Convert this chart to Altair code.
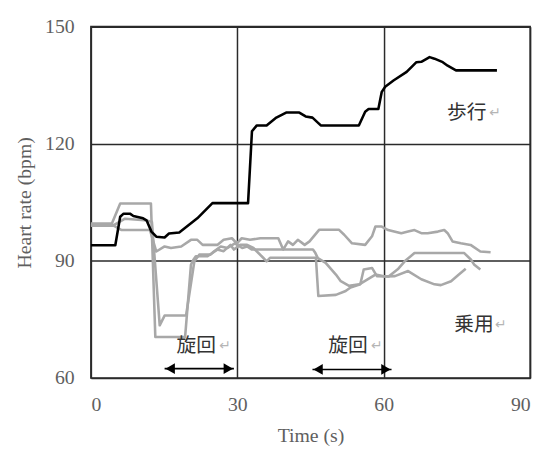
import altair as alt
import pandas as pd

# Walking (歩行) series - black
walk_t = [0, 5, 6, 6.7, 8, 8.7, 10.7, 11.4, 12.4, 13.4, 15.1, 16, 18.1, 21.8, 24.9, 32.2, 33, 34, 36, 38, 40,
          42.7, 44, 45.4, 47.1, 54.9, 56.2, 56.9, 58.9, 59.6, 60.3, 62, 64.7, 66.7, 67.7, 69.4, 70.4, 72.1,
          73.1, 74.8, 83.2]
walk_hr = [94, 94, 101.3, 102.1, 102.1, 101.5, 100.9, 100.4, 97.5, 96.2, 96, 97, 97.3, 100.9, 104.8, 104.8,
           123.2, 124.7, 124.7, 126.7, 128, 128, 127, 126.7, 124.7, 124.7, 128.2, 128.9, 128.9, 133.3, 134.6,
           136.2, 138.4, 140.9, 141, 142.2, 141.8, 140.9, 140, 138.8, 138.8]

# Riding (乗用) series - grey
ride1_t = [0, 4.4, 6.3, 12.1, 13.4, 15.1, 16.4, 18.5, 20.5, 21.8, 22.9, 25.9, 27.2, 28.9, 29.9, 30.9, 32.6,
           34.7, 38.4, 39.4, 40.4, 41.4, 42.4, 43.8, 44.8, 46.8, 50.8, 51.9, 53.5, 56.2, 57.6, 58.3, 59.6, 60.9,
           63.6, 65, 66.3, 67.7, 69, 71.1, 72.4, 73.1, 74.1, 75.8, 77.8, 79.8, 81.9]
ride1_hr = [99.2, 99.2, 97.9, 97.9, 92.4, 93.7, 93.3, 93.7, 95.4, 95.4, 94.1, 94.1, 95.4, 95.8, 94.5, 95.8,
            95.4, 95.8, 95.8, 92.9, 95, 94.1, 95.4, 94.1, 95, 98, 98, 96.7, 94.5, 94.1, 96.3, 98.8, 98.8, 97.9,
            97.1, 97.5, 97.9, 97.1, 97.1, 97.5, 97.9, 97.1, 95, 94.5, 94.1, 92.4, 92.2]

ride2_t = [0, 4.3, 6, 12.3, 13.2, 19.3, 20.5, 21, 21.5, 23.9, 25.9, 27.2, 28.6, 29.3, 30.6, 32, 33.3, 35.3, 36,
           36.7, 46.1, 46.6, 50.2, 52.2, 53.2, 55.2, 55.9, 57.6, 58.6, 61, 63, 64.3, 66.3, 76.5, 77.9, 78.5, 79.8]
ride2_hr = [99.6, 99.6, 104.7, 104.7, 70.5, 70.5, 89, 90.3, 91.2, 91.2, 92.9, 92.5, 94.1, 92.9, 94.1, 94.1,
            93.3, 90.8, 89.9, 90.8, 90.8, 81, 81.3, 82.3, 83.2, 84, 87.8, 88.2, 86.1, 86, 88, 89.9, 92, 92,
            90.3, 89.1, 87.8]

ride3_t = [0, 4.4, 7, 11, 12.5, 14.1, 15.1, 19.5, 21.2, 22.2, 24.5, 25.2, 26.6, 28, 29.5, 31, 32, 33, 45.5,
           46, 46.5, 48.1, 50.2, 51.2, 52.9, 55, 58.3, 60.3, 62.3, 65, 67.7, 70.4, 71.7, 73.8, 75.4, 76.8]
ride3_hr = [99, 99, 100.8, 100.4, 100, 73.5, 76, 76, 89.9, 91.6, 91.6, 92.4, 93.7, 93.3, 94.5, 93.3, 93.7,
            92.9, 92.9, 92, 90.7, 89.5, 86.5, 84.8, 83.6, 84, 86.5, 86, 86.1, 87.4, 85.3, 84, 83.8, 84.8, 86.5, 88]

# Annotations
label_text = ["歩行", "乗用", "旋回", "旋回"]
label_t = [77.0, 78.5, 21.6, 52.7]
label_hr = [127.8, 73.5, 68.1, 68.1]
mark_t = [81.6, 82.8, 26.3, 57.4]   # position of the ↵ paragraph marks

arrow_start = [15.1, 45.4]
arrow_end = [29.3, 61.6]
arrow_hr = [62.4, 62.2]

x_ticks = [0, 30, 60, 90]
y_ticks = [60, 90, 120, 150]

rows = []
for name, ts, hs in [("ride1", ride1_t, ride1_hr), ("ride2", ride2_t, ride2_hr), ("ride3", ride3_t, ride3_hr)]:
    for i, (t, h) in enumerate(zip(ts, hs)):
        rows.append({"series": name, "t": t, "hr": h, "i": i})
grey_df = pd.DataFrame(rows)
walk_df = pd.DataFrame({"t": walk_t, "hr": walk_hr, "i": list(range(len(walk_t)))})
label_df = pd.DataFrame({"text": label_text, "t": label_t, "hr": label_hr, "mt": mark_t, "mark": ["↵"] * 4})
arrow_df = pd.DataFrame({"t1": arrow_start, "t2": arrow_end, "hr": arrow_hr})
head_l = pd.DataFrame({"t": [a + 1.15 for a in arrow_start], "hr": arrow_hr})
head_r = pd.DataFrame({"t": [a - 1.15 for a in arrow_end], "hr": arrow_hr})

xs = alt.Scale(domain=[0, 90], nice=False)
ys = alt.Scale(domain=[60, 150], nice=False)

X = alt.X("t:Q", scale=xs, axis=alt.Axis(values=x_ticks, title="Time (s)", titleY=64,
                                          titleBaseline="alphabetic"))
Y = alt.Y("hr:Q", scale=ys, axis=alt.Axis(values=y_ticks, title="Heart rate (bpm)", titleX=-67, titleY=178,
                                           titleAngle=-90, titleBaseline="middle", titleAlign="center"))

grey = alt.Chart(grey_df).mark_line(color="#a8a8a8", strokeWidth=2.6, strokeJoin="round").encode(
    x=X, y=Y, detail="series:N", order="i:Q")
walk = alt.Chart(walk_df).mark_line(color="#000000", strokeWidth=2.6, strokeJoin="round").encode(
    x="t:Q", y="hr:Q", order="i:Q")

labels = alt.Chart(label_df).mark_text(font="Noto Sans CJK JP", fontSize=20, color="#333333",
                                       align="center", baseline="middle").encode(
    x="t:Q", y="hr:Q", text="text:N")
marks = alt.Chart(label_df).mark_text(font="DejaVu Sans", fontSize=14, color="#b5b5b5",
                                      align="left", baseline="middle").encode(
    x="mt:Q", y="hr:Q", text="mark:N")

arrow_line = alt.Chart(arrow_df).mark_rule(color="#000000", strokeWidth=1.6).encode(
    x="t1:Q", x2="t2:Q", y="hr:Q")
left_heads = alt.Chart(head_l).mark_point(shape="triangle-left", filled=True, color="#000000", size=120,
                                          opacity=1).encode(x="t:Q", y="hr:Q")
right_heads = alt.Chart(head_r).mark_point(shape="triangle-right", filled=True, color="#000000", size=120,
                                           opacity=1).encode(x="t:Q", y="hr:Q")

chart = alt.layer(grey, walk, labels, marks, arrow_line, left_heads, right_heads).properties(
    width=445, height=356,
    autosize=alt.AutoSizeParams(type="none"),
    padding={"left": 84, "top": 16, "right": 10, "bottom": 68},
).configure_view(
    stroke="#2a2a2a", strokeWidth=1.6
).configure_axis(
    grid=True, gridColor="#2a2a2a", gridWidth=1.5, gridOpacity=1,
    domain=False, ticks=False,
    labelFont="Liberation Serif", labelFontSize=20, labelColor="#5f5f5f", labelPadding=17,
    titleFont="Liberation Serif", titleFontSize=20, titleColor="#5f5f5f", titleFontWeight="normal",
)

chart.save("out.html", embed_options={"renderer": "svg", "actions": False})
